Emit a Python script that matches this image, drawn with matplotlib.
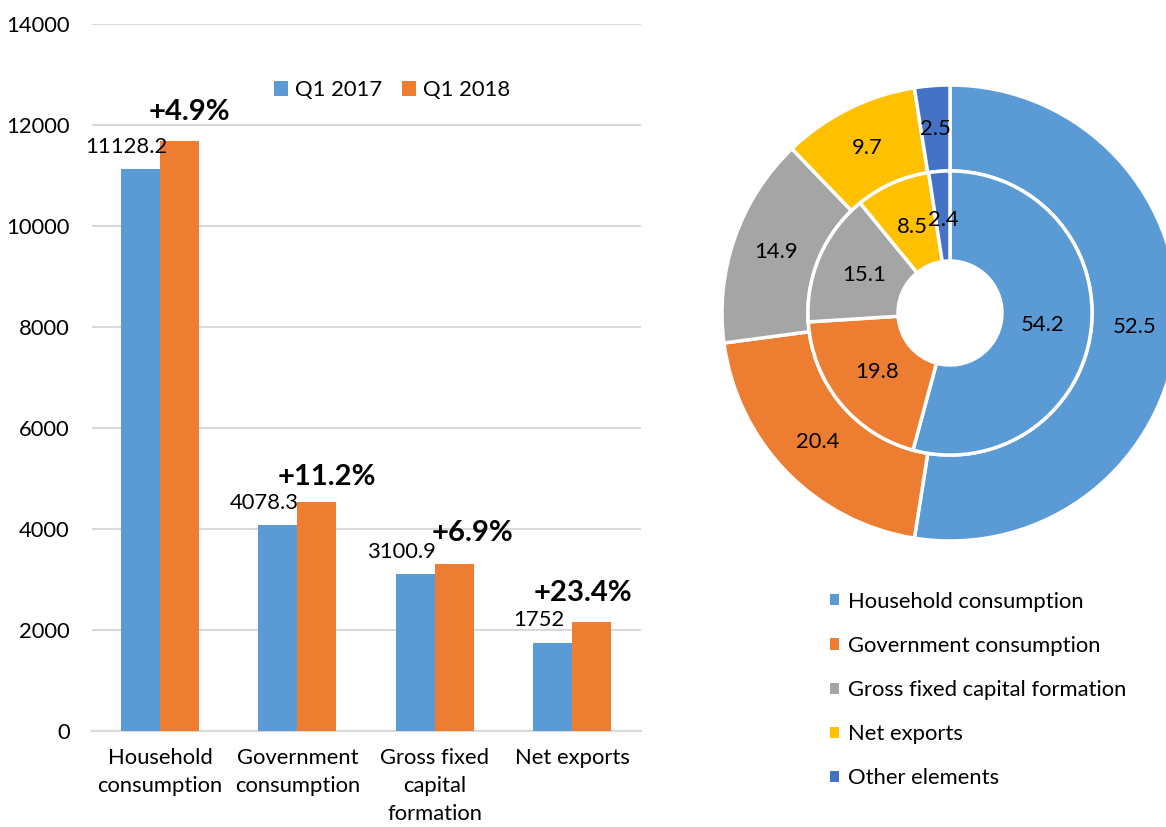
import matplotlib
matplotlib.use("Agg")
import matplotlib.pyplot as plt
import numpy as np
from matplotlib.patches import Patch

plt.rcParams['font.family'] = ['Lato', 'DejaVu Sans']

# GDP components, Q1 2017 vs Q1 2018
categories = ['Household\nconsumption', 'Government\nconsumption',
              'Gross fixed\ncapital\nformation', 'Net exports']
q1_2017 = [11128.2, 4078.3, 3100.9, 1752.0]
q1_2018 = [11673.5, 4535.1, 3314.9, 2162.0]
growth = ['+4.9%', '+11.2%', '+6.9%', '+23.4%']
y_ticks = [0, 2000, 4000, 6000, 8000, 10000, 12000, 14000]

# structure shares (%), outer ring 2018, inner ring 2017
share_names = ['Household consumption', 'Government consumption',
               'Gross fixed capital formation', 'Net exports', 'Other elements']
share_2018 = [52.5, 20.4, 14.9, 9.7, 2.5]
share_2017 = [54.2, 19.8, 15.1, 8.5, 2.4]

BLUE = '#5B9BD5'
ORANGE = '#ED7D31'
pie_colors = [BLUE, ORANGE, '#A5A5A5', '#FFC000', '#4472C4']
FS = 15.8

fig = plt.figure(figsize=(11.66, 8.27), dpi=100)

# ---- bar chart ----
ax = fig.add_axes([92 / 1166, 96 / 827, 549 / 1166, 707 / 827])
x = np.arange(len(categories))
w = 0.284
b1 = ax.bar(x - w / 2, q1_2017, w, color=BLUE, label='Q1 2017', zorder=3)
b2 = ax.bar(x + w / 2, q1_2018, w, color=ORANGE, label='Q1 2018', zorder=3)

ax.set_ylim(0, 14000)
ax.set_xlim(-0.495, 3.502)
ax.set_yticks(y_ticks)
ax.set_xticks(x)
ax.set_xticklabels(categories, fontsize=FS, linespacing=1.5)
ax.tick_params(axis='y', labelsize=FS, length=0, pad=16)
ax.tick_params(axis='x', length=0, pad=12)
ax.grid(axis='y', color='#D9D9D9', linewidth=1.5, zorder=0)
for s in ['top', 'right', 'left']:
    ax.spines[s].set_visible(False)
ax.spines['bottom'].set_color('#D9D9D9')
ax.spines['bottom'].set_linewidth(1.5)

# value labels on the 2017 bars
for rect, v in zip(b1, q1_2017):
    ax.annotate(f'{v:g}', (rect.get_x() + rect.get_width() / 2, rect.get_height()),
                xytext=(-10, 16), textcoords='offset points',
                ha='center', va='center', fontsize=FS)

# growth labels above the 2018 bars
pct_offsets = [(7, 21), (7, 18), (13, 22), (-6, 21)]
for rect, g, off in zip(b2, growth, pct_offsets):
    ax.annotate(g, (rect.get_x() + rect.get_width() / 2, rect.get_height()),
                xytext=off, textcoords='offset points',
                ha='center', va='center', fontsize=21, fontweight='bold')

ax.legend(loc='center', bbox_to_anchor=(392 / 1166, 1 - 90 / 827),
          bbox_transform=fig.transFigure, ncol=2, frameon=False,
          fontsize=FS, handlelength=0.65, handleheight=0.65,
          handletextpad=0.3, columnspacing=0.9)

# ---- donut chart ----
cx, cy, half = 950, 827 - 313, 240
pax = fig.add_axes([(cx - half) / 1166, (cy - half) / 827,
                    2 * half / 1166, 2 * half / 827])
r_out, r_mid, r_hole = 1.0, 0.623, 0.228
wedge_kw = dict(edgecolor='white', linewidth=2.5)
pax.pie(share_2018, colors=pie_colors, radius=r_out, startangle=90,
        counterclock=False, wedgeprops=dict(width=r_out - r_mid, **wedge_kw),
        labels=[f'{v:g}' for v in share_2018], labeldistance=0.81,
        textprops=dict(fontsize=FS, ha='center', va='center'))
pax.pie(share_2017, colors=pie_colors, radius=r_mid, startangle=90,
        counterclock=False, wedgeprops=dict(width=r_mid - r_hole, **wedge_kw),
        labels=[f'{v:g}' for v in share_2017], labeldistance=0.66,
        textprops=dict(fontsize=FS, ha='center', va='center'))
lim = half / 228
pax.set_xlim(-lim, lim)
pax.set_ylim(-lim, lim)

handles = [Patch(facecolor=c, edgecolor='none') for c in pie_colors]
fig.legend(handles, share_names, loc='center left',
           bbox_to_anchor=(810 / 1166, 1 - 690 / 827), frameon=False,
           fontsize=FS, handlelength=0.41, handleheight=0.41,
           handletextpad=0.41, labelspacing=1.1)

fig.savefig('out.png', dpi=100)
